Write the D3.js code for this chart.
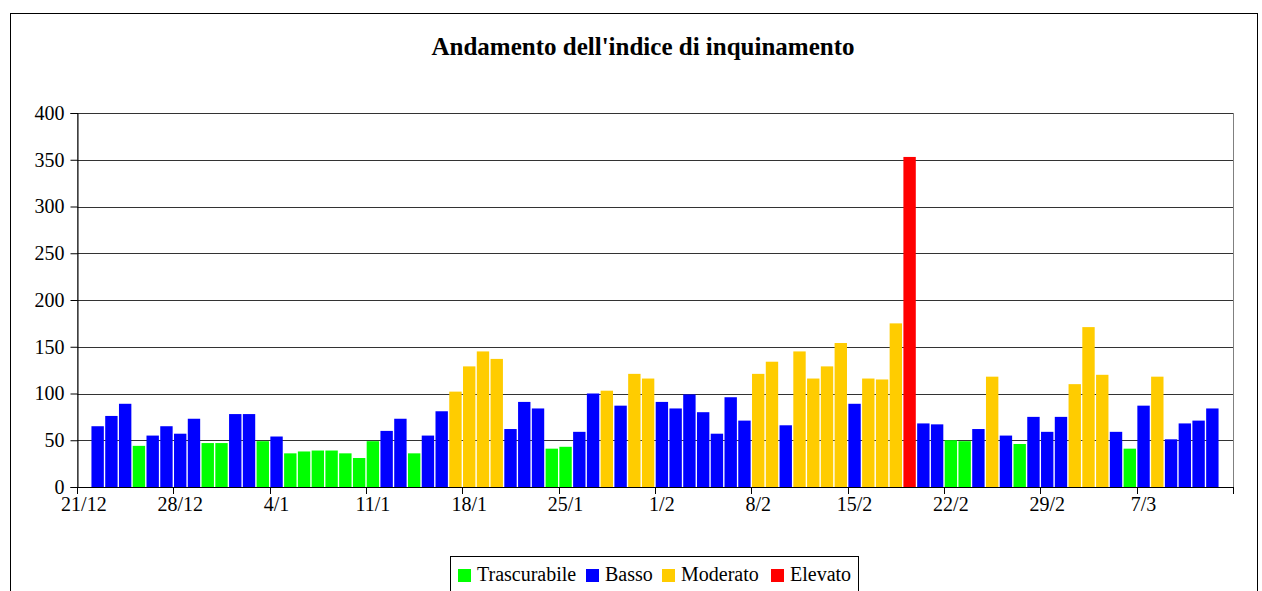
<!DOCTYPE html>
<html>
<head>
<meta charset="utf-8">
<script src="https://cdn.jsdelivr.net/npm/d3@7"></script>
<style>
  body { margin: 0; background: #fff; }
  svg { display: block; font-family: "Liberation Serif", "Times New Roman", serif; }
</style>
</head>
<body>
<svg id="chart" width="1262" height="591"></svg>
<script>
// daily index values, 21/12 .. 13/3 (null = no data)
var values = [null, 65, 76, 89, 44, 55, 65, 57, 73, 47, 47, 78, 78, 49,
              54, 36, 38, 39, 39, 36, 31, 49, 60, 73, 36, 55, 81, 102,
              129, 145, 137, 62, 91, 84, 41, 43, 59, 100, 103, 87, 121, 116,
              91, 84, 99, 80, 57, 96, 71, 121, 134, 66, 145, 116, 129, 154,
              89, 116, 115, 175, 353, 68, 67, 50, 49, 62, 118, 55, 46, 75,
              59, 75, 110, 171, 120, 59, 41, 87, 118, 51, 68, 71, 84, null];

// level of each day: T = Trascurabile, B = Basso, M = Moderato, E = Elevato
var levels = ["", "B", "B", "B", "T", "B", "B", "B", "B", "T", "T", "B", "B", "T",
              "B", "T", "T", "T", "T", "T", "T", "T", "B", "B", "T", "B", "B", "M",
              "M", "M", "M", "B", "B", "B", "T", "T", "B", "B", "M", "B", "M", "M",
              "B", "B", "B", "B", "B", "B", "B", "M", "M", "B", "M", "M", "M", "M",
              "B", "M", "M", "M", "E", "B", "B", "T", "T", "B", "M", "B", "T", "B",
              "B", "B", "M", "M", "M", "B", "T", "B", "M", "B", "B", "B", "B", ""];

var seriesKeys = ["T", "B", "M", "E"];
var seriesNames = ["Trascurabile", "Basso", "Moderato", "Elevato"];
var seriesColors = ["#00ff00", "#0000ff", "#ffcc00", "#ff0000"];

var yTicks = [0, 50, 100, 150, 200, 250, 300, 350, 400];
var xTickLabels = ["21/12", "28/12", "4/1", "11/1", "18/1", "25/1", "1/2",
                   "8/2", "15/2", "22/2", "29/2", "7/3"];

// categories: one per day
var fmt = d3.timeFormat("%-d/%-m");
var days = d3.timeDay.range(new Date(2007, 11, 21), new Date(2008, 2, 14)).map(fmt);

var svg = d3.select('#chart');

var plotLeft = 77, plotRight = 1233, plotTop = 113, plotBottom = 487;

// outer chart border
svg.append('rect')
    .attr('x', 10.5).attr('y', 13.5)
    .attr('width', 1247).attr('height', 600)
    .attr('fill', 'none').attr('stroke', '#000');

svg.append('text')
    .attr('x', 643).attr('y', 55)
    .attr('text-anchor', 'middle')
    .style('font-size', '25px').style('font-weight', 'bold')
    .text("Andamento dell'indice di inquinamento");

var x = d3.scaleBand().domain(days).range([plotLeft, plotRight]).paddingInner(0.1).paddingOuter(0.05);
var y = d3.scaleLinear().domain([0, 400]).range([plotBottom, plotTop]);
var color = d3.scaleOrdinal().domain(seriesKeys).range(seriesColors);

// plot area border
svg.append('rect')
    .attr('x', plotLeft + 0.5).attr('y', plotTop + 0.5)
    .attr('width', plotRight - plotLeft).attr('height', plotBottom - plotTop)
    .attr('fill', 'none').attr('stroke', '#808080');

// gridlines
svg.append('g').selectAll('line')
    .data(yTicks.slice(1))
    .enter()
    .append('line')
    .attr('x1', plotLeft).attr('x2', plotRight)
    .attr('y1', function(d){ return Math.round(y(d)) + 0.5; })
    .attr('y2', function(d){ return Math.round(y(d)) + 0.5; })
    .attr('stroke', '#333');

// bars
var bars = values.map(function(v, i){ return {day: days[i], value: v, level: levels[i]}; })
                 .filter(function(d){ return d.value != null; });

svg.append('g').selectAll('rect')
    .data(bars)
    .enter()
    .append('rect')
    .attr('x', function(d){ return x(d.day); })
    .attr('width', x.bandwidth())
    .attr('y', function(d){ return y(d.value); })
    .attr('height', function(d){ return y(0) - y(d.value); })
    .attr('fill', function(d){ return color(d.level); });

// y axis
var yAxis = svg.append('g')
    .attr('transform', 'translate(' + (plotLeft + 0.5) + ',0)')
    .call(d3.axisLeft(y).tickValues(yTicks).tickSize(7).tickPadding(6));
yAxis.selectAll('text').style('font-size', '20px').attr('fill', '#000')
    .style('font-family', '"Liberation Serif", serif');
yAxis.selectAll('line').attr('stroke', '#000');
yAxis.select('.domain').attr('stroke', '#000');

// x axis: ticks at week boundaries, labels centred on first day
var xs = d3.scaleLinear().domain([0, days.length]).range([plotLeft, plotRight]);
var tickIdx = d3.range(0, days.length + 1, 7);

var xAxis = svg.append('g');
xAxis.append('line')
    .attr('x1', plotLeft).attr('x2', plotRight)
    .attr('y1', plotBottom + 0.5).attr('y2', plotBottom + 0.5)
    .attr('stroke', '#000');
xAxis.selectAll('line.tick')
    .data(tickIdx)
    .enter()
    .append('line')
    .attr('class', 'tick')
    .attr('x1', function(d){ return Math.round(xs(d)) + 0.5; })
    .attr('x2', function(d){ return Math.round(xs(d)) + 0.5; })
    .attr('y1', plotBottom).attr('y2', plotBottom + 7)
    .attr('stroke', '#000');
xAxis.selectAll('text')
    .data(xTickLabels)
    .enter()
    .append('text')
    .attr('x', function(d, i){ return x(days[i * 7]) + x.bandwidth() / 2; })
    .attr('y', 511)
    .attr('text-anchor', 'middle')
    .style('font-size', '20px')
    .text(function(d){ return d; });

// legend
var legend = svg.append('g');
legend.append('rect')
    .attr('x', 450.5).attr('y', 556.5)
    .attr('width', 408).attr('height', 50)
    .attr('fill', '#fff').attr('stroke', '#000');

var legendX = [458, 586, 662, 771];
var item = legend.selectAll('g.item')
    .data(seriesNames)
    .enter()
    .append('g')
    .attr('class', 'item')
    .attr('transform', function(d, i){ return 'translate(' + legendX[i] + ',569)'; });
item.append('rect')
    .attr('width', 13).attr('height', 13)
    .attr('fill', function(d, i){ return seriesColors[i]; });
item.append('text')
    .attr('x', 19).attr('y', 12)
    .style('font-size', '20px')
    .text(function(d){ return d; });
</script>
</body>
</html>
